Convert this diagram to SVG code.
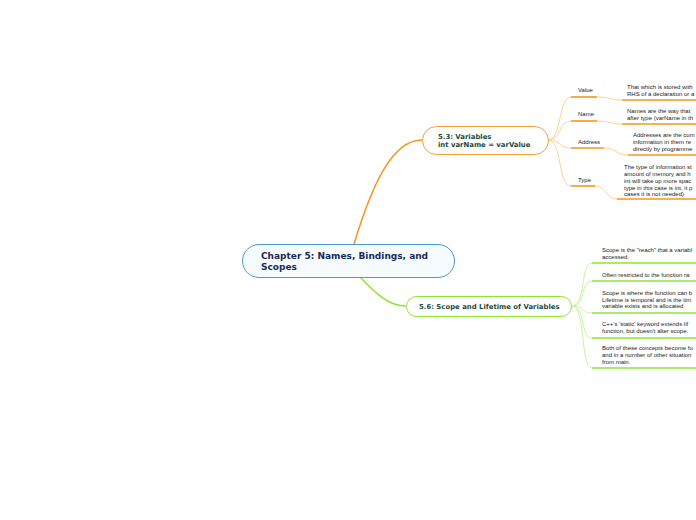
<svg xmlns="http://www.w3.org/2000/svg" width="696" height="520" viewBox="0 0 696 520">
<style>
.bg{fill:#ffffff}
.oc{fill:none;stroke:#fcd495;stroke-width:1}
.ou{fill:none;stroke:#f7941d;stroke-width:1.6}
.gc{fill:none;stroke:#c8f59c;stroke-width:1}
.gu{fill:none;stroke:#8ee632;stroke-width:1.6}
.sm{font-family:"Liberation Sans",Arial,sans-serif;font-size:6px;fill:#222}
.t1{font-family:"DejaVu Sans",Verdana,sans-serif;font-weight:bold;font-size:9px;fill:#1b2a57}
.t2{font-family:"DejaVu Sans",Verdana,sans-serif;font-weight:bold;font-size:6.9px;fill:#1d4a3c}
</style>
<rect class="bg" x="0" y="0" width="696" height="520"/>
<g id="connectors">
<path d="M354,244 C372,185 392,140 422,140" fill="none" stroke="#f7941d" stroke-width="1.5"/>
<path d="M360,277 C378,296 390,306 406,306" fill="none" stroke="#8ee632" stroke-width="1.5"/>
<path class="oc" d="M548,140 C562,140 558,97 571,97"/>
<path class="oc" d="M548,140 C562,140 558,121 571,121"/>
<path class="oc" d="M548,140 C562,140 558,148 571,148"/>
<path class="oc" d="M548,140 C562,140 558,186 571,186"/>
<path class="oc" d="M597,97 C610,97 610,100 622,100"/>
<path class="oc" d="M597,121 C610,121 610,124 622,124"/>
<path class="oc" d="M604,148 C616,148 616,155 628,155"/>
<path class="oc" d="M595,186 C606,186 606,199 617,199"/>
<path class="gc" d="M572,306 C586,306 580,263 592,263"/>
<path class="gc" d="M572,306 C586,306 580,281 592,281"/>
<path class="gc" d="M572,306 C586,306 580,313 592,313"/>
<path class="gc" d="M572,306 C586,306 580,338 592,338"/>
<path class="gc" d="M572,306 C586,306 580,368 592,368"/>
</g>
<g id="central">
<rect x="242.5" y="244.5" width="212" height="33" rx="16.5" fill="#f6fbfe" stroke="#4a9ad6" stroke-width="1"/>
<text class="t1" x="261" y="259">Chapter 5: Names, Bindings, and</text>
<text class="t1" x="261" y="270">Scopes</text>
</g>
<g id="n53">
<rect x="422.5" y="126.5" width="126" height="28" rx="14" fill="#ffffff" stroke="#f7a030" stroke-width="1"/>
<text class="t2" x="438" y="138.5">5.3: Variables</text>
<text class="t2" x="438" y="147">int varName = varValue</text>
</g>
<g id="n56">
<rect x="406.5" y="296.5" width="165" height="20" rx="10" fill="#ffffff" stroke="#8ee632" stroke-width="1"/>
<text class="t2" x="419" y="309">5.6: Scope and Lifetime of Variables</text>
</g>
<g id="value">
<path class="ou" d="M571,97 H597"/>
<text class="sm" x="578" y="92">Value</text>
<path class="ou" d="M622,100 H696"/>
<text class="sm" x="627" y="89">That which is stored with</text>
<text class="sm" x="627" y="96">RHS of a declaration or a</text>
</g>
<g id="name">
<path class="ou" d="M571,121 H597"/>
<text class="sm" x="578" y="116">Name</text>
<path class="ou" d="M622,124 H696"/>
<text class="sm" x="627" y="113">Names are the way that</text>
<text class="sm" x="627" y="120">after type (varName in th</text>
</g>
<g id="address">
<path class="ou" d="M571,148 H604"/>
<text class="sm" x="578" y="144">Address</text>
<path class="ou" d="M628,155 H696"/>
<text class="sm" x="633" y="137">Addresses are the com</text>
<text class="sm" x="633" y="144">information in them re</text>
<text class="sm" x="633" y="151">directly by programme</text>
</g>
<g id="type">
<path class="ou" d="M571,186 H595"/>
<text class="sm" x="578" y="182">Type</text>
<path class="ou" d="M617,199 H696"/>
<text class="sm" x="624" y="169">The type of information st</text>
<text class="sm" x="624" y="176">amount of memory and h</text>
<text class="sm" x="624" y="183">int will take up more spac</text>
<text class="sm" x="624" y="190">type in this case is int, it p</text>
<text class="sm" x="624" y="196">cases it is not needed)</text>
</g>
<g id="g1">
<path class="gu" d="M592,263 H696"/>
<text class="sm" x="602" y="252">Scope is the "reach" that a variabl</text>
<text class="sm" x="602" y="259">accessed.</text>
</g>
<g id="g2">
<path class="gu" d="M592,281 H696"/>
<text class="sm" x="602" y="277">Often restricted to the function ra</text>
</g>
<g id="g3">
<path class="gu" d="M592,313 H696"/>
<text class="sm" x="602" y="295">Scope is where the function can b</text>
<text class="sm" x="602" y="302">Lifetime is temporal and is the tim</text>
<text class="sm" x="602" y="308">variable exists and is allocated</text>
</g>
<g id="g4">
<path class="gu" d="M592,338 H696"/>
<text class="sm" x="602" y="326">C++'s 'static' keyword extends lif</text>
<text class="sm" x="602" y="333">function, but doesn't alter scope.</text>
</g>
<g id="g5">
<path class="gu" d="M592,368 H696"/>
<text class="sm" x="602" y="350">Both of these concepts become fu</text>
<text class="sm" x="602" y="357">and in a number of other situation</text>
<text class="sm" x="602" y="364">from main.</text>
</g>
</svg>
